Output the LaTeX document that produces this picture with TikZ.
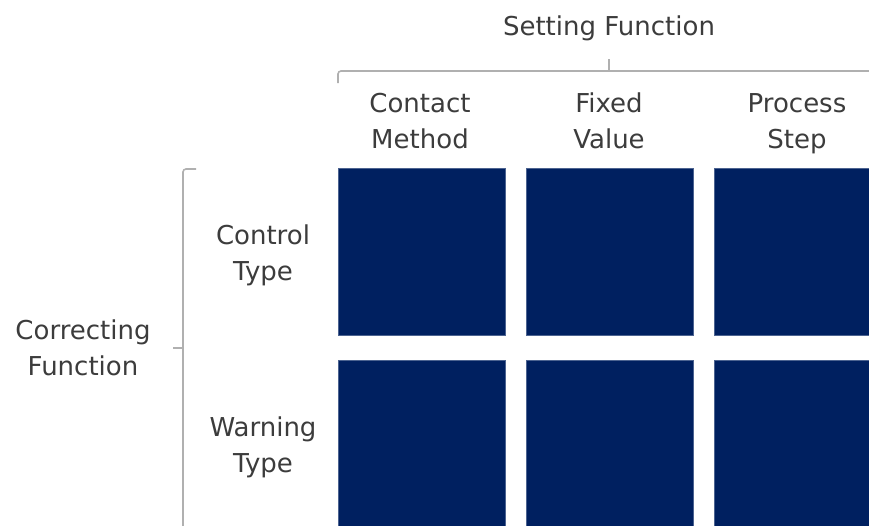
\documentclass[tikz,border=0pt]{standalone}
\usepackage{fontspec}
\setmainfont{DejaVu Sans}
\definecolor{cellblue}{HTML}{002060}
\definecolor{labelgray}{HTML}{3C3C3C}
\definecolor{bracketgray}{HTML}{B0B0B0}
\newcommand{\twoline}[2]{\strut #1\\\strut #2}
\begin{document}
\begin{tikzpicture}[x=1pt,y=-1pt,
  cell/.style={fill=cellblue,draw=cellblue!70!white,line width=0.6pt,minimum width=167pt,minimum height=167pt,anchor=north west,inner sep=0pt},
  lbl/.style={text=labelgray,align=center,font=\fontsize{26}{36}\selectfont,inner sep=0pt},
  bracket/.style={draw=bracketgray,line width=1.6pt,rounded corners=3pt}]
\useasboundingbox (0,0) rectangle (869,525);
\begin{scope}
\clip (0,0) rectangle (869,525);
% grid of cells
\node[cell] (c11) at (338,168) {};
\node[cell] (c12) at (526,168) {};
\node[cell] (c13) at (714,168) {};
\node[cell] (c21) at (338,360) {};
\node[cell] (c22) at (526,360) {};
\node[cell] (c23) at (714,360) {};
% brackets
\draw[bracket] (338,83) -- (338,71) -- (880,71);
\draw[bracket] (609,71) -- (609,59);
\draw[bracket] (196,169) -- (183,169) -- (183,530);
\draw[bracket] (183,348) -- (173,348);
\end{scope}
% header labels
\node[lbl] (setf) at (609,28) {\strut Setting Function};
\node[lbl] (colA) at (420,123) {\twoline{Contact}{Method}};
\node[lbl] (colB) at (609,123) {\twoline{Fixed}{Value}};
\node[lbl] (colC) at (797,123) {\twoline{Process}{Step}};
% row labels
\node[lbl] (rowA) at (263,255.5) {\twoline{Control}{Type}};
\node[lbl] (rowB) at (263,447.5) {\twoline{Warning}{Type}};
\node[lbl] (corr) at (83,350.5) {\twoline{Correcting}{Function}};
\end{tikzpicture}
\end{document}
